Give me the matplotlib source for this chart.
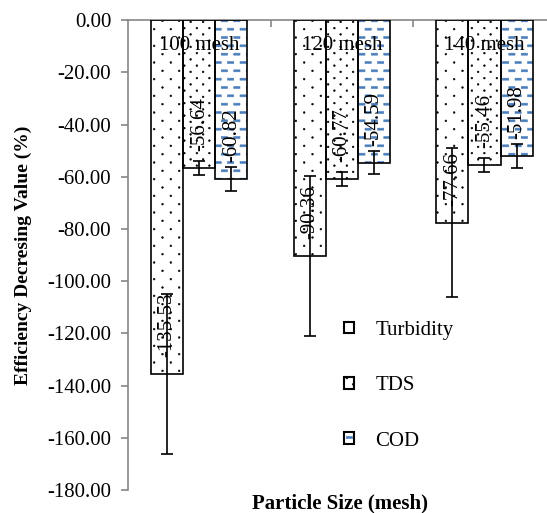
import numpy as np
import matplotlib
matplotlib.use("Agg")
import matplotlib.pyplot as plt
import matplotlib.hatch as mhatch
import matplotlib.transforms as mtrans
from matplotlib.path import Path
from matplotlib.patches import Patch

# data
mesh_labels = ["100 mesh", "120 mesh", "140 mesh"]
series = ["Turbidity", "TDS", "COD"]
turbidity = [-135.53, -90.36, -77.66]
tds = [-56.64, -60.77, -55.46]
cod = [-60.82, -54.59, -51.98]
turbidity_err = [30.5, 30.5, 28.5]
tds_err = [2.6, 2.6, 2.7]
cod_err = [4.5, 4.4, 4.6]


# custom hatches: sparse dots '.', dense dots 'o', short blue dashes '-'
class DotHatch(mhatch.HatchPatternBase):
    def __init__(self, hatch, density):
        self.cols = self.rows = 0
        if '.' in hatch:
            self.cols, self.rows = 6, 12
        elif 'o' in hatch:
            self.cols, self.rows = 8, 16
        circ = Path.unit_circle()
        self.sv = circ.vertices * 0.0085
        self.sc = circ.codes
        self.num_vertices = self.cols * self.rows * len(self.sv)

    def set_vertices_and_codes(self, vertices, codes):
        parts = []
        for r in range(self.rows):
            for c in range(self.cols):
                x = (c + 0.25 + 0.5 * (r % 2)) / self.cols
                y = (r + 0.5) / self.rows
                parts.append(self.sv + [x, y])
        vertices[:] = np.concatenate(parts)
        codes[:] = np.tile(self.sc, self.cols * self.rows)


class DashHatch(mhatch.HatchPatternBase):
    def __init__(self, hatch, density):
        self.cols = self.rows = 0
        if '-' in hatch:
            self.cols, self.rows = 8, 12
        self.num_vertices = self.cols * self.rows * 5

    def set_vertices_and_codes(self, vertices, codes):
        w = 0.5 / self.cols
        h = 0.01
        parts = []
        for r in range(self.rows):
            for c in range(self.cols):
                x = (c + 0.2 + 0.5 * (r % 2)) / self.cols
                y = (r + 0.5) / self.rows
                parts.append([[x, y - h], [x + w, y - h], [x + w, y + h],
                              [x, y + h], [x, y - h]])
        vertices[:] = np.concatenate(parts)
        codes[:] = np.tile([Path.MOVETO, Path.LINETO, Path.LINETO,
                            Path.LINETO, Path.CLOSEPOLY], self.cols * self.rows)


mhatch._hatch_types[:] = [DotHatch, DashHatch]
plt.rcParams['hatch.linewidth'] = 0.4

plt.rcParams['font.family'] = ['Liberation Serif', 'DejaVu Serif']

blue = '#4a7ebb'
grey = '#868686'

fig = plt.figure(figsize=(5.47, 5.13), dpi=100)
ax = fig.add_axes([0.234, 0.0448, 0.782, 0.916])

x = np.arange(len(mesh_labels))
w = 0.225
vals = [turbidity, tds, cod]
errs = [turbidity_err, tds_err, cod_err]
hatches = ['.', 'o', '-']
hcolors = ['black', 'black', blue]

for i in range(3):
    pos = x + (i - 1) * w
    ax.bar(pos, vals[i], w, color='white', edgecolor=hcolors[i],
           linewidth=0, hatch=hatches[i], zorder=2)
    ax.bar(pos, vals[i], w, fill=False, edgecolor='black',
           linewidth=1.2, zorder=3)
    ax.errorbar(pos, vals[i], yerr=errs[i], fmt='none', ecolor='black',
                elinewidth=1.2, capsize=4.5, capthick=1.2, zorder=4)
    for p, v in zip(pos, vals[i]):
        ax.annotate(f"{v:.2f}", (p, v), xytext=(0, 12),
                    textcoords='offset points', rotation=90,
                    ha='center', va='bottom', fontsize=15, zorder=5)

ax.set_xlim(-0.5, 2.5)
ax.set_ylim(-180, 0)
ax.set_yticks(np.arange(-180, 1, 20))
ax.yaxis.set_major_formatter(matplotlib.ticker.FormatStrFormatter('%.2f'))
ax.tick_params(axis='y', direction='out', length=5, color=grey,
               labelsize=15, width=1.2, pad=7)

# category axis sits at y = 0 (top); its labels hang just inside it
ax.xaxis.set_ticks_position('top')
ax.set_xticks([0.5, 1.5])
ax.tick_params(axis='x', direction='in', length=5, color=grey, width=1.2,
               labeltop=False, labelbottom=False)
trans = mtrans.blended_transform_factory(ax.transData, ax.transAxes)
for xi, lab in zip(x, mesh_labels):
    ax.text(xi, 0.947, lab, transform=trans, ha='center', va='center',
            fontsize=15, zorder=6)

for s in ['right', 'bottom']:
    ax.spines[s].set_visible(False)
for s in ['left', 'top']:
    ax.spines[s].set_color(grey)
    ax.spines[s].set_linewidth(1.2)

ax.set_ylabel("Efficiency Decresing Value (%)", fontsize=14, fontweight='bold')
ax.yaxis.set_label_coords(-0.224, 0.5)
fig.text(340 / 547, 1 - 503 / 513, "Particle Size (mesh)", fontsize=15,
         fontweight='bold', ha='center', va='center')

handles = []
for i in range(3):
    hp = Patch(facecolor='white', edgecolor=hcolors[i], linewidth=0, hatch=hatches[i])
    op = Patch(fill=False, edgecolor='black', linewidth=1.5)
    handles.append((hp, op))
ax.legend(handles, series, loc='upper left', bbox_to_anchor=(0.505, 0.36),
          frameon=False, fontsize=15, handlelength=0.5, handleheight=0.5,
          labelspacing=1.75, handletextpad=1.0, borderpad=0, borderaxespad=0)

fig.savefig("out.png", dpi=100)
